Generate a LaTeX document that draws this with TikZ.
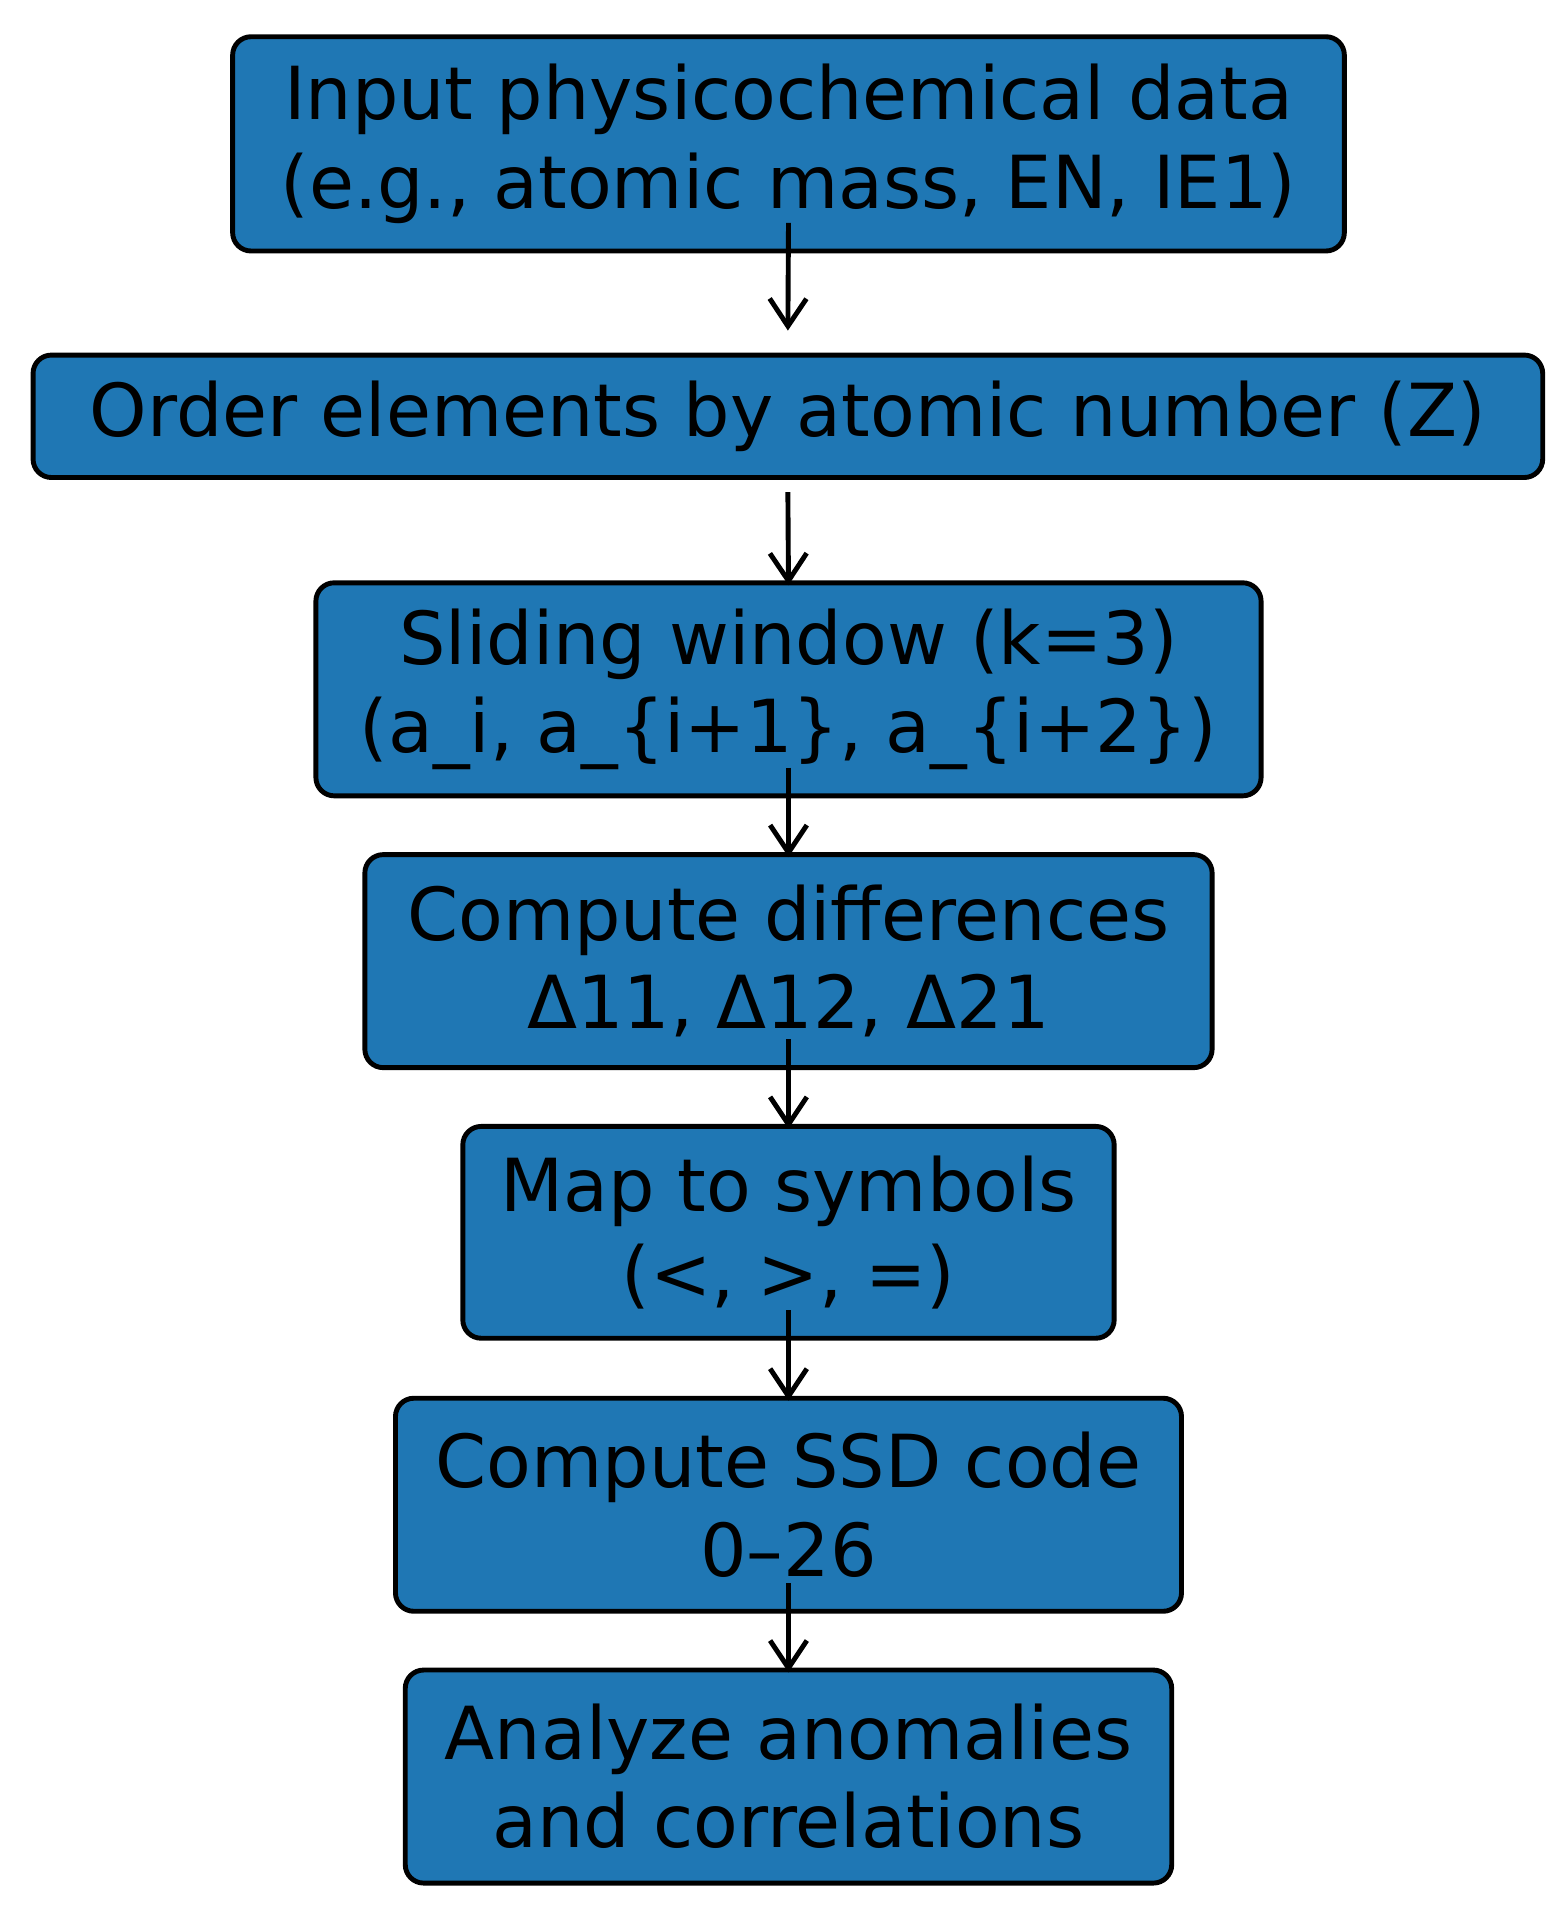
\documentclass[tikz,border=0pt]{standalone}
\usepackage{fontspec}
\setmainfont{DejaVu Sans}
\usetikzlibrary{arrows.meta}
\begin{document}
\begin{tikzpicture}[
  box/.style={draw=black, line width=0.08cm, fill={rgb,255:red,31;green,119;blue,180}, rounded corners=0.3cm, align=center, inner sep=0pt, font=\fontsize{34}{41}\selectfont},
  arr/.style={line width=0.08cm, -{Straight Barb[length=0.45cm,width=0.6cm,line width=0.08cm]}}]
\useasboundingbox (0,0) rectangle (25.6,-31.2);
\node[box, minimum width=18.16cm, minimum height=3.5cm] (a) at (12.88,-2.35) {Input physicochemical data\\(e.g., atomic mass, EN, IE1)};
\node[box, minimum width=24.66cm, minimum height=2.0cm] (b) at (12.87,-6.8) {Order elements by atomic number (Z)};
\node[box, minimum width=15.44cm, minimum height=3.48cm] (c) at (12.88,-11.26) {Sliding window (k=3)\\(a\_i, a\_\{i+1\}, a\_\{i+2\})};
\node[box, minimum width=13.84cm, minimum height=3.48cm] (d) at (12.88,-15.7) {Compute differences\\Δ11, Δ12, Δ21};
\node[box, minimum width=10.64cm, minimum height=3.46cm] (e) at (12.88,-20.13) {Map to symbols\\(<, >, =)};
\node[box, minimum width=12.84cm, minimum height=3.48cm] (f) at (12.88,-24.58) {Compute SSD code\\0–26};
\node[box, minimum width=12.52cm, minimum height=3.48cm] (g) at (12.88,-29.02) {Analyze anomalies\\and correlations};
\draw[arr] ([yshift=0.5cm]a.south) -- ([yshift=0.36cm]b.north);
\draw[arr] ([yshift=-0.2cm]b.south) -- ([yshift=-0.08cm]c.north);
\draw[arr] ([yshift=0.5cm]c.south) -- ([yshift=-0.08cm]d.north);
\draw[arr] ([yshift=0.5cm]d.south) -- ([yshift=-0.08cm]e.north);
\draw[arr] ([yshift=0.5cm]e.south) -- ([yshift=-0.08cm]f.north);
\draw[arr] ([yshift=0.5cm]f.south) -- ([yshift=-0.08cm]g.north);
\end{tikzpicture}
\end{document}
